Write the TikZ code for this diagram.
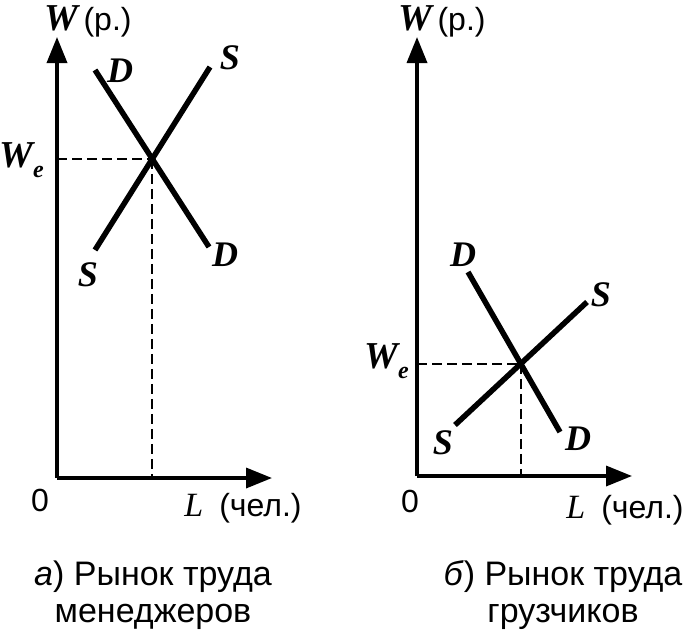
\documentclass[tikz,border=0pt]{standalone}
\usepackage{fontspec}
\setmainfont{Liberation Sans}
\newfontfamily\timesfont{Liberation Serif}
\usetikzlibrary{arrows.meta}

\begin{document}
\begin{tikzpicture}[x=1pt,y=-1pt,
  axis/.style={line width=3.5pt,-{Triangle[length=26pt,width=20pt]}},
  curve/.style={line width=5.5pt},
  guide/.style={line width=2pt,dash pattern=on 10pt off 5pt},
  letter/.style={inner sep=0pt,font=\timesfont\bfseries\itshape\fontsize{36}{36}\selectfont},
  axlabel/.style={inner sep=0pt,font=\fontsize{32}{32}\selectfont},
  caption/.style={inner sep=0pt,align=center,font=\fontsize{34}{37}\selectfont}]
\useasboundingbox (0,0) rectangle (695,634);

% left panel: managers
\coordinate (O1) at (57,478);
\coordinate (Wtop1) at (57,37);
\coordinate (Ltop1) at (272,478);
\draw[axis] (O1) -- (Wtop1);
\draw[axis] (O1) -- (Ltop1);

\coordinate (D1a) at (95,70);
\coordinate (D1b) at (209,247);
\coordinate (S1a) at (95,250);
\coordinate (S1b) at (210,67);
\coordinate (E1) at (intersection of D1a--D1b and S1a--S1b);
\coordinate (E1y) at (O1 |- E1);
\coordinate (E1x) at (E1 |- O1);

\draw[guide] (E1y) -- (E1);
\draw[guide] (E1) -- (E1x);
\draw[curve] (D1a) -- (D1b);
\draw[curve] (S1a) -- (S1b);

\node[letter] (dtop1) at (120,71) {D};
\node[letter] (stop1) at (230,58) {S};
\node[letter] (sbot1) at (88,275) {S};
\node[letter] (dbot1) at (225,255) {D};
\node[letter,anchor=east,font=\timesfont\bfseries\itshape\fontsize{38}{38}\selectfont] (we1) at (44,160) {W\raisebox{-10pt}{\fontsize{24}{24}\selectfont e}};

\node[axlabel,anchor=base] (wlab1) at (88,31) {{\timesfont\bfseries\itshape\fontsize{38}{38}\selectfont W}\,(р.)};
\node[axlabel] (zero1) at (40,500) {0};
\node[axlabel] (llab1) at (243,508) {{\timesfont\itshape\fontsize{34}{34}\selectfont L}\enspace(чел.)};

\node[caption] (cap1) at (153,595) {\textit{а}) Рынок труда\\менеджеров};

% right panel: loaders
\coordinate (O2) at (417,476);
\coordinate (Wtop2) at (417,37);
\coordinate (Ltop2) at (632,476);
\draw[axis] (O2) -- (Wtop2);
\draw[axis] (O2) -- (Ltop2);

\coordinate (D2a) at (468,272);
\coordinate (D2b) at (560,432);
\coordinate (S2a) at (455,425);
\coordinate (S2b) at (587,302);
\coordinate (E2) at (intersection of D2a--D2b and S2a--S2b);
\coordinate (E2y) at (O2 |- E2);
\coordinate (E2x) at (E2 |- O2);

\draw[guide] (E2y) -- (E2);
\draw[guide] (E2) -- (E2x);
\draw[curve] (D2a) -- (D2b);
\draw[curve] (S2a) -- (S2b);

\node[letter] (dtop2) at (463,255) {D};
\node[letter] (stop2) at (601,295) {S};
\node[letter] (sbot2) at (443,443) {S};
\node[letter] (dbot2) at (578,439) {D};
\node[letter,anchor=east,font=\timesfont\bfseries\itshape\fontsize{38}{38}\selectfont] (we2) at (409,361) {W\raisebox{-10pt}{\fontsize{24}{24}\selectfont e}};

\node[axlabel,anchor=base] (wlab2) at (442,31) {{\timesfont\bfseries\itshape\fontsize{38}{38}\selectfont W}\,(р.)};
\node[axlabel] (zero2) at (410,501) {0};
\node[axlabel] (llab2) at (625,510) {{\timesfont\itshape\fontsize{34}{34}\selectfont L}\enspace(чел.)};

\node[caption] (cap2) at (563,595) {\textit{б}) Рынок труда\\грузчиков};
\end{tikzpicture}
\end{document}
